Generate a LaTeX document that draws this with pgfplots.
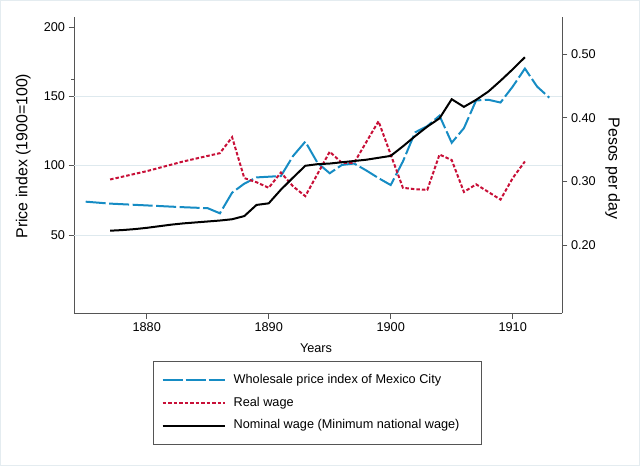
\documentclass[border=0pt]{standalone}
\usepackage{pgfplots}
\pgfplotsset{compat=1.18}
\usepackage{fontspec}
\setmainfont{Liberation Sans}
\definecolor{sblue}{RGB}{22,140,196}
\definecolor{sred}{RGB}{200,16,56}
\definecolor{gridc}{RGB}{222,233,238}
\definecolor{framec}{RGB}{228,236,240}
\definecolor{axc}{RGB}{85,85,85}
\newcommand{\ff}{\fontsize{12.7}{15}\selectfont}
\newcommand{\fy}{\fontsize{15.9}{18}\selectfont}
\pgfplotsset{
  common/.style={
    at={(74pt,152.7pt)}, anchor=south west, scale only axis,
    width=488pt, height=296.6pt,
    xmin=1874.04, xmax=1914.04,
    tick align=outside, major tick length=5.5pt,
    axis line style={draw=axc, line width=0.7pt},
    tick style={draw=axc, line width=0.7pt},
    every tick label/.append style={font=\ff, text=black},
    label style={font=\ff},
    /pgf/number format/assume math mode=true,
  }
}
\begin{document}
\begin{tikzpicture}
\useasboundingbox (0,0) rectangle (640pt,466pt);
\draw[framec, line width=1pt] (0.7pt,0.7pt) rectangle (639.3pt,465.3pt);
\begin{axis}[common,
  ymin=-6.5, ymax=207.4,
  axis x line*=bottom, axis y line*=left,
  xtick={1880,1890,1900,1910},
  xticklabels={1880,1890,1900,1910},
  ytick={50,100,150,200},
  extra y ticks={162.5},
  extra y tick labels={},
  extra y tick style={major tick length=3pt},
  xlabel={Years},
  ylabel={Price index (1900=100)},
  every axis x label/.style={at={(axis description cs:0.496,-0.118)}, anchor=center, font=\ff},
  every axis y label/.style={at={(axis description cs:-0.104,0.530)}, anchor=center, rotate=90, font=\fy},
]
\draw[gridc, line width=0.8pt] (axis cs:1874.04,50) -- (axis cs:1914.04,50);
\draw[gridc, line width=0.8pt] (axis cs:1874.04,100) -- (axis cs:1914.04,100);
\draw[gridc, line width=0.8pt] (axis cs:1874.04,150) -- (axis cs:1914.04,150);
\addplot[sblue, line width=2pt, dash pattern=on 20pt off 3.5pt] coordinates {
(1875,74)(1877,72.6)(1880,71.3)(1883,70.0)(1885,69.3)(1886,65.6)(1887,80.5)(1888,87)(1889,91.5)(1890,92)(1891,92.5)(1892,107)(1893,117.3)(1894,102)(1895,94.5)(1896,100.5)(1897,101.5)(1898,96.5)(1899,91)(1900,86)(1901,103)(1902,124)(1903,128.5)(1904,136)(1905,116.5)(1906,127)(1907,147)(1908,147.5)(1909,145.5)(1910,157)(1911,170)(1912,157)(1913,149)
};
\addplot[sred, line width=2pt, dash pattern=on 3.5pt off 2pt] coordinates {
(1877,90)(1880,96)(1883,103)(1886,109)(1887,120.5)(1888,91)(1889,88)(1890,84)(1891,95)(1892,85)(1893,78)(1894,94)(1895,110)(1896,102)(1897,102)(1898,117)(1899,132)(1900,108)(1901,84)(1902,83)(1903,82.5)(1904,108)(1905,104)(1906,81)(1907,86.5)(1908,81)(1909,75.5)(1910,91)(1911,103)
};
\end{axis}
\begin{axis}[common,
  ymin=0.0928, ymax=0.5586,
  axis x line=none, axis y line*=right,
  ytick={0.2,0.3,0.4,0.5},
  yticklabel style={/pgf/number format/.cd, fixed, fixed zerofill, precision=2},
  ylabel={Pesos per day},
  every axis y label/.style={at={(axis description cs:1.104,0.488)}, anchor=center, rotate=-90, font=\fy},
  legend cell align=left,
  legend image code/.code={\draw[#1] (0pt,0pt) -- (62pt,0pt); \path (68pt,0pt);},
  legend style={at={(axis description cs:0.1625,-0.1598)}, anchor=north west,
    draw=axc, line width=0.7pt, font=\ff, inner xsep=8pt, inner ysep=12pt,
    row sep=8.7pt,
    nodes={text height=9.3pt, text depth=2.8pt, inner ysep=1pt}},
]
\addlegendimage{sblue, line width=2pt, dash pattern=on 20pt off 3pt}
\addlegendentry{Wholesale price index of Mexico City}
\addlegendimage{sred, line width=2pt, dash pattern=on 3.5pt off 2pt}
\addlegendentry{Real wage}
\addplot[black, line width=2pt] coordinates {
(1877,0.2225)(1878,0.2235)(1879,0.225)(1880,0.227)(1881,0.2295)(1882,0.232)(1883,0.234)(1884,0.2355)(1885,0.237)(1886,0.2385)(1887,0.2405)(1888,0.2455)(1889,0.263)(1890,0.2655)(1891,0.287)(1892,0.306)(1893,0.3245)(1894,0.327)(1895,0.328)(1896,0.330)(1897,0.332)(1898,0.334)(1899,0.337)(1900,0.340)(1901,0.355)(1902,0.371)(1903,0.386)(1904,0.399)(1905,0.429)(1906,0.417)(1907,0.428)(1908,0.441)(1909,0.458)(1910,0.476)(1911,0.495)
};
\addlegendentry{Nominal wage (Minimum national wage)\hspace*{12pt}}
\end{axis}
\end{tikzpicture}
\end{document}
